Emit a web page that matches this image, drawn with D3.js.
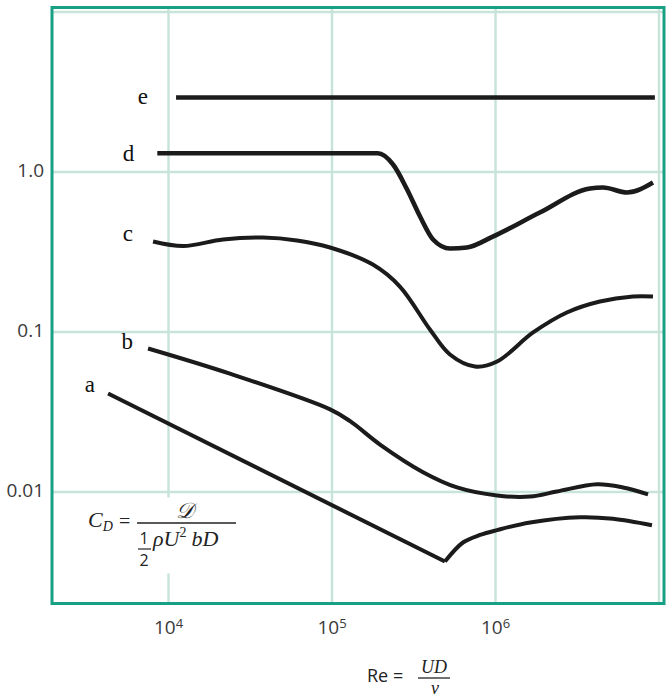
<!DOCTYPE html>
<meta charset="utf-8">
<title>Drag coefficient vs Reynolds number</title>
<style>
body {
  margin: 0;
  background: white;
}
svg {
  display: block;
  font-family: 'Open Sans', sans-serif;
}
.grid line {
  stroke: #c8e4da;
  stroke-width: 2.5;
}
.grid path {
  display: none;
}
.axis path {
  display: none;
}
.axis text {
  fill: #3a3a3a;
  font-size: 19px;
  font-family: 'Open Sans', sans-serif;
}
.curve {
  fill: none;
  stroke: #1b1b1b;
  stroke-width: 4;
}
.curve.thick {
  stroke-width: 4.6;
}
.label {
  font-family: 'Liberation Serif', serif;
  font-size: 23px;
  fill: #111;
}
.frame {
  fill: none;
  stroke: #17a084;
  stroke-width: 3;
}
.math {
  font-family: 'Liberation Serif', serif;
  font-style: italic;
  fill: #222;
}
</style>
<svg width="669" height="697"></svg>
<script src="https://d3js.org/d3.v7.min.js"></script>
<script>
// [Re, C_D]
var curveE = [[1.12e4, 2.9], [9.5e6, 2.9]];
var curveD = [[8.6e3, 1.30], [1.92e5, 1.30], [2.38e5, 1.106], [2.9e5, 0.772], [3.48e5, 0.523],
              [4.18e5, 0.376], [5.31e5, 0.330], [6.74e5, 0.335], [9.7e5, 0.392], [1.88e6, 0.554],
              [3.81e6, 0.783], [4.58e6, 0.794], [6.42e6, 0.739], [9.25e6, 0.854]];
var curveC = [[8.1e3, 0.365], [1.24e4, 0.342], [2.17e4, 0.376], [3.81e4, 0.387], [6.15e4, 0.371],
              [9.8e4, 0.335], [1.79e5, 0.262], [2.62e5, 0.191], [4.0e5, 0.103], [5.3e5, 0.0718],
              [7.55e5, 0.0604], [1.03e6, 0.0649], [1.71e6, 0.0986], [2.75e6, 0.1315],
              [4.38e6, 0.154], [6.98e6, 0.1655], [9.25e6, 0.1655]];
var curveB = [[7.55e3, 0.0783], [2.39e4, 0.0545], [9.8e4, 0.0326], [1.3e5, 0.0275], [2.0e5, 0.0195],
              [3.63e5, 0.0132], [5.86e5, 0.0106], [1.03e6, 0.00944],
              [1.64e6, 0.0093], [2.39e6, 0.0100], [4.21e6, 0.0111], [6.07e6, 0.0106], [8.63e6, 0.0096]];
var curveAdown = [[4.3e3, 0.041], [4.94e5, 0.00365]];
var curveAup = [[4.94e5, 0.00365], [6.37e5, 0.0048], [8.1e5, 0.00535], [1.03e6, 0.00574],
                [1.64e6, 0.0064], [3.31e6, 0.0069], [5.27e6, 0.00675], [9.12e6, 0.00615]];

var curveNames = ['a', 'b', 'c', 'd', 'e'];
var yTicks = [1, 0.1, 0.01];
var yTickLabels = ['1.0', '0.1', '0.01'];
var xTicks = [1e4, 1e5, 1e6];
var xTickExp = ['4', '5', '6'];
var xGrid = [1e4, 1e5, 1e6, 1e7];
var yGrid = [0.01, 0.1, 1, 10];

var plotL = 52, plotT = 7.5, plotR = 664, plotB = 603.5;

var svg = d3.select('svg');

var x = d3.scaleLog()
    .domain([Math.pow(10, 3.2905), Math.pow(10, 7.0336)])
    .range([plotL, plotR]);

var y = d3.scaleLog()
    .domain([Math.pow(10, -2.7), Math.pow(10, 1.025)])
    .range([plotB, plotT]);

// grid
svg.append('g')
    .attr('class', 'grid')
    .attr('transform', 'translate(0,' + plotB + ')')
    .call(d3.axisBottom(x).tickValues(xGrid).tickSize(-(plotB - plotT)).tickFormat(''));

svg.append('g')
    .attr('class', 'grid')
    .attr('transform', 'translate(' + plotL + ',0)')
    .call(d3.axisLeft(y).tickValues(yGrid).tickSize(-(plotR - plotL)).tickFormat(''));

// white patch behind the formula (covers the grid line like the pasted formula does)
svg.append('rect')
    .attr('x', x(1e4) - 6).attr('y', y(0.01) + 6)
    .attr('width', 11).attr('height', 76)
    .attr('fill', 'white');

// frame
svg.append('rect')
    .attr('class', 'frame')
    .attr('x', plotL).attr('y', plotT)
    .attr('width', plotR - plotL).attr('height', plotB - plotT);

// y axis labels
var yAxis = svg.append('g')
    .attr('class', 'axis')
    .attr('transform', 'translate(' + plotL + ',0)')
    .call(d3.axisLeft(y).tickValues(yTicks).tickSize(0).tickPadding(8)
      .tickFormat(function(d, i) { return yTickLabels[i]; }));
yAxis.selectAll('text').attr('dy', '0.28em');

// x axis labels, 10 with superscript exponent
var xAxis = svg.append('g')
    .attr('class', 'axis')
    .attr('transform', 'translate(0,' + plotB + ')')
    .call(d3.axisBottom(x).tickValues(xTicks).tickSize(0).tickPadding(17));
xAxis.selectAll('text').each(function(d, i) {
  var t = d3.select(this).text('');
  t.append('tspan').text('10');
  t.append('tspan').attr('dy', '-0.45em').style('font-size', '13px').text(xTickExp[i]);
});

// curves
var smooth = d3.line()
    .x(function(d) { return x(d[0]); })
    .y(function(d) { return y(d[1]); })
    .curve(d3.curveCatmullRom.alpha(0.5));

var monotone = d3.line()
    .x(function(d) { return x(d[0]); })
    .y(function(d) { return y(d[1]); })
    .curve(d3.curveMonotoneX);

var straight = d3.line()
    .x(function(d) { return x(d[0]); })
    .y(function(d) { return y(d[1]); });

svg.append('path').attr('class', 'curve').attr('d', straight(curveAdown));
svg.append('path').attr('class', 'curve').attr('d', smooth(curveAup));
svg.append('path').attr('class', 'curve').attr('d', smooth(curveB));
svg.append('path').attr('class', 'curve').attr('d', smooth(curveC));
svg.append('path').attr('class', 'curve thick').attr('d', monotone(curveD));
svg.append('path').attr('class', 'curve thick').attr('d', straight(curveE));

// curve letters, left of each curve's start
var starts = [curveAdown[0], curveB[0], curveC[0], curveD[0], curveE[0]];
var offs = [[-13, -1], [-15, 1], [-20, -1], [-23, 8], [-28, 6]];
svg.selectAll('.label')
  .data(curveNames)
  .enter().append('text')
    .attr('class', 'label')
    .attr('text-anchor', 'end')
    .attr('x', function(d, i) { return x(starts[i][0]) + offs[i][0]; })
    .attr('y', function(d, i) { return y(starts[i][1]) + offs[i][1]; })
    .text(function(d) { return d; });

// C_D formula
var f = svg.append('g').attr('class', 'math');
f.append('text').attr('x', 88).attr('y', 527).style('font-size', '22px')
  .text('C')
  .append('tspan').attr('dy', 4).style('font-size', '14px').text('D');
f.append('text').attr('x', 119).attr('y', 528).style('font-size', '20px').style('font-style', 'normal').text('=');
f.append('line').attr('x1', 137).attr('x2', 236).attr('y1', 523).attr('y2', 523)
  .attr('stroke', '#222').attr('stroke-width', 1.3);
f.append('text').attr('x', 185).attr('y', 518).attr('text-anchor', 'middle')
  .style('font-size', '22px').text('\u{1D49F}');
f.append('text').attr('x', 144).attr('y', 544).attr('text-anchor', 'middle')
  .style('font-size', '16px').style('font-style', 'normal').style('font-family', 'Open Sans, sans-serif').text('1');
f.append('line').attr('x1', 138).attr('x2', 151).attr('y1', 549).attr('y2', 549)
  .attr('stroke', '#222').attr('stroke-width', 1.2);
f.append('text').attr('x', 144).attr('y', 566).attr('text-anchor', 'middle')
  .style('font-size', '16px').style('font-style', 'normal').style('font-family', 'Open Sans, sans-serif').text('2');
var den = f.append('text').attr('x', 153).attr('y', 546).style('font-size', '22px');
den.append('tspan').text('\u03C1U');
den.append('tspan').attr('dy', -9).style('font-size', '14px').style('font-style', 'normal').text('2');
den.append('tspan').attr('dy', 9).attr('dx', 5).text('bD');

// Re formula
var r = svg.append('g');
r.append('text').attr('x', 367).attr('y', 682).style('font-size', '18px').attr('fill', '#222')
  .text('Re =');
r.append('text').attr('class', 'math').attr('x', 434).attr('y', 673).attr('text-anchor', 'middle')
  .style('font-size', '18px').text('UD');
r.append('line').attr('x1', 418).attr('x2', 450).attr('y1', 678).attr('y2', 678)
  .attr('stroke', '#222').attr('stroke-width', 1.3);
r.append('text').attr('class', 'math').attr('x', 435).attr('y', 694).attr('text-anchor', 'middle')
  .style('font-size', '18px').text('\u03BD');
</script>
